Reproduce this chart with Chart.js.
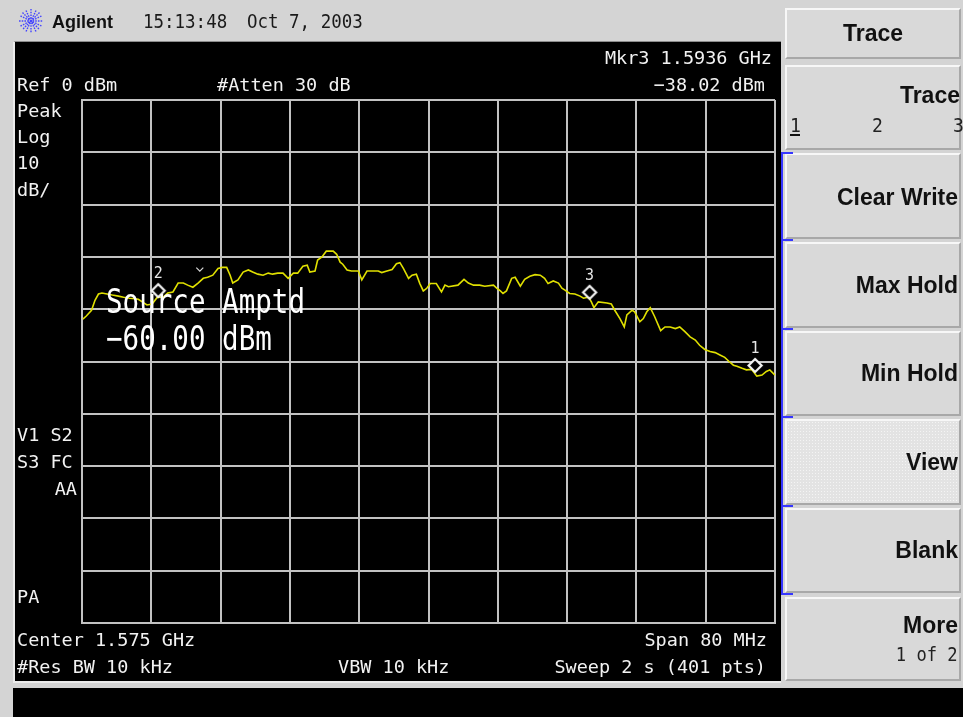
<!DOCTYPE html>
<html>
<head>
<meta charset="utf-8">
<script src="https://cdn.jsdelivr.net/npm/chart.js@4"></script>
<style>
  html, body { margin: 0; padding: 0; }
  body { width: 963px; height: 717px; position: relative; overflow: hidden; background: #d4d4d4; }
  .blk { position: absolute; background: #000; box-sizing: border-box; }
  .key { position: absolute; left: 785px; width: 176px; box-sizing: border-box; background: #d9d9d9;
         border-top: 2px solid #f7f7f7; border-left: 2px solid #f7f7f7;
         border-bottom: 2px solid #a8a8a8; border-right: 2px solid #a8a8a8; }
  .key.sel { background-color: #e3e3e3;
             background-image: radial-gradient(#f4f4f4 0.7px, transparent 0.9px);
             background-size: 3px 3px; }
  .brk { position: absolute; background: #3636ff; z-index: 4; }
  #chart { position: absolute; left: 0; top: 0; z-index: 2; }
  .t { position: absolute; white-space: pre; z-index: 3; }
</style>
</head>
<body>
<!-- instrument display area -->
<div class="blk" style="left:13px;top:41px;width:768px;height:642px;border-left:2px solid #ececec;border-bottom:2px solid #ececec;border-top:1px solid #8c8c8c;"></div>
<div class="blk" style="left:13px;top:688px;width:950px;height:29px;"></div>

<!-- logo -->
<svg style="position:absolute;left:18px;top:8px;z-index:3" width="26" height="26" viewBox="0 0 26 26">
  <g stroke="#4646ff" stroke-width="1.4" stroke-dasharray="1.6 1.1" stroke-linecap="butt">
    <line x1="13" y1="1" x2="13" y2="25"/>
    <line x1="1" y1="13" x2="25" y2="13"/>
    <line x1="4.5" y1="4.5" x2="21.5" y2="21.5"/>
    <line x1="21.5" y1="4.5" x2="4.5" y2="21.5"/>
    <line x1="8" y1="2.5" x2="18" y2="23.5"/>
    <line x1="18" y1="2.5" x2="8" y2="23.5"/>
    <line x1="2.5" y1="8" x2="23.5" y2="18"/>
    <line x1="2.5" y1="18" x2="23.5" y2="8"/>
  </g>
</svg>

<!-- soft keys -->
<div class="key" style="top:8px;height:51px;"></div>
<div class="key" style="top:65px;height:85px;"></div>
<div class="key" style="top:153px;height:86px;"></div>
<div class="key" style="top:242px;height:86px;"></div>
<div class="key" style="top:331px;height:85px;"></div>
<div class="key sel" style="top:419px;height:86px;"></div>
<div class="key" style="top:508px;height:85px;"></div>
<div class="key" style="top:597px;height:84px;"></div>

<div class="brk" style="left:781px;top:152px;width:2px;height:443px;"></div>
<div class="brk" style="left:781px;top:152px;width:12px;height:2px;"></div>
<div class="brk" style="left:781px;top:239px;width:12px;height:2px;"></div>
<div class="brk" style="left:781px;top:328px;width:12px;height:2px;"></div>
<div class="brk" style="left:781px;top:416px;width:12px;height:2px;"></div>
<div class="brk" style="left:781px;top:505px;width:12px;height:2px;"></div>
<div class="brk" style="left:781px;top:593px;width:12px;height:2px;"></div>
<div style="position:absolute;left:790px;top:134px;width:10px;height:1.5px;background:#111;z-index:3"></div>

<canvas id="chart" width="963" height="717"></canvas>

<script>
// Sweep settings
const centerMHz = 1575;
const spanMHz = 80;
const refLevelDbm = 0;
const dbPerDiv = 10;
const divisions = 10;

// Trace 1: frequency (MHz) and level (dBm)
const traceFreqMHz = [
  1535.1,1535.5,1536.1,1536.5,1536.9,1537.3,1537.9,1538.5,1539.2,1539.8,
  1540.5,1541.1,1541.5,1542.5,1543.1,1543.7,1544.4,1544.9,1545.5,1546.1,
  1546.7,1547.2,1547.8,1548.4,1549.0,1549.5,1550.1,1550.7,1551.2,1551.7,
  1552.1,1552.4,1553.0,1553.6,1554.2,1554.7,1555.3,1555.9,1556.5,1557.0,
  1557.6,1558.2,1558.8,1559.4,1559.9,1560.5,1561.0,1561.3,1561.9,1562.2,
  1562.7,1563.2,1564.0,1564.4,1564.8,1565.1,1565.6,1566.1,1566.9,1567.3,
  1567.9,1569.2,1569.6,1570.2,1570.8,1571.3,1571.7,1572.1,1572.7,1573.1,
  1573.6,1574.0,1574.4,1574.8,1575.2,1575.9,1576.5,1576.9,1577.3,1578.4,
  1579.1,1579.6,1580.2,1580.9,1581.5,1582.5,1582.9,1583.3,1583.6,1584.0,
  1584.6,1585.0,1585.6,1586.1,1586.7,1587.3,1587.9,1588.4,1588.8,1589.4,
  1590.0,1590.4,1590.8,1591.3,1591.9,1592.5,1592.9,1593.4,1593.6,1593.8,
  1594.1,1594.6,1595.6,1596.1,1596.5,1597.1,1597.6,1597.9,1598.5,1598.8,
  1599.4,1599.8,1600.2,1600.6,1601.1,1601.8,1602.3,1602.9,1603.5,1604.0,
  1604.6,1605.2,1605.8,1606.3,1606.9,1607.5,1608.1,1608.7,1609.2,1609.7,
  1610.2,1610.6,1611.2,1611.7,1612.3,1612.9,1613.5,1614.0,1614.4,1615.0
];
const traceDbm = [
  -41.9,-41.3,-40.2,-38.3,-37.1,-36.9,-37.1,-37.3,-37.5,-37.7,
  -37.9,-38.0,-38.1,-39.2,-39.0,-37.7,-37.7,-36.9,-36.7,-35.0,
  -35.0,-35.4,-35.8,-35.0,-34.1,-33.9,-33.5,-32.2,-32.0,-32.0,
  -33.5,-35.0,-34.4,-32.9,-32.5,-32.9,-33.3,-33.5,-33.1,-33.3,
  -33.1,-33.1,-34.1,-33.1,-33.1,-31.8,-31.6,-32.9,-32.7,-30.6,
  -30.0,-28.9,-28.9,-29.5,-31.0,-31.4,-32.5,-32.7,-32.7,-34.4,
  -32.7,-32.7,-33.0,-32.7,-32.4,-31.3,-31.1,-32.2,-34.1,-33.5,
  -33.3,-35.1,-36.5,-36.0,-35.1,-35.1,-36.7,-35.4,-35.7,-35.4,
  -34.3,-35.0,-35.4,-35.4,-35.6,-35.4,-36.0,-36.5,-37.0,-36.5,
  -34.1,-33.9,-35.6,-34.3,-33.7,-33.4,-33.5,-34.1,-35.1,-34.6,
  -35.0,-36.0,-36.4,-37.0,-37.1,-37.5,-37.9,-37.7,-38.0,-38.6,
  -39.7,-38.6,-38.8,-39.0,-40.2,-41.8,-43.4,-41.1,-40.2,-40.5,
  -42.4,-41.8,-40.5,-39.7,-41.4,-44.1,-43.4,-43.4,-43.7,-43.4,
  -44.3,-45.3,-45.9,-46.9,-47.7,-48.1,-48.3,-48.8,-49.2,-50.0,
  -50.7,-50.9,-51.3,-51.6,-51.5,-52.8,-52.6,-51.9,-51.6,-52.6
];

// Markers
const markerNames = ['1', '2', '3'];
const markerFreqMHz = [1612.7, 1543.8, 1593.6];
const markerDbm = [-52.0, -37.7, -38.02];
const activeMarker = 2;

// Peak excursion flag
const flagFreqMHz = [1548.6];
const flagDbm = [-35.0];

// ---------- text helper ----------
const MET = { 'DejaVu Sans Mono': [0.928, 0.236], 'Liberation Sans': [0.905, 0.212] };
function put(str, x, base, o) {
  o = o || {};
  const fam = o.family || 'DejaVu Sans Mono';
  const fs = o.size || 18.5;
  const m = MET[fam];
  const top = base - ((fs - (m[0] + m[1]) * fs) / 2 + m[0] * fs);
  const d = document.createElement('div');
  d.className = 't';
  d.textContent = str;
  const sx = o.sx || 1;
  let css = `font:${o.weight || 'normal'} ${fs}px "${fam}";line-height:${fs}px;color:${o.color || '#f2f2f2'};top:${top}px;`;
  if (o.align === 'right') css += `right:${963 - x}px;transform-origin:right center;transform:scaleX(${sx});`;
  else if (o.align === 'center') css += `left:${x}px;transform:translateX(-50%) scaleX(${sx});`;
  else css += `left:${x}px;transform-origin:left center;transform:scaleX(${sx});`;
  if (o.z) css += `z-index:${o.z};`;
  d.style.cssText = css;
  document.body.appendChild(d);
}

// header
put('Agilent', 52, 28, { family: 'Liberation Sans', size: 18, weight: 'bold', color: '#111' });
put('15:13:48', 143, 28, { size: 19, sx: 0.92, color: '#1a1a1a' });
put('Oct 7, 2003', 247, 28, { size: 19, sx: 0.92, color: '#1a1a1a' });

// display annotations
put(`Ref ${refLevelDbm} dBm`, 17, 92);
put('#Atten 30 dB', 217, 92);
put(`Mkr${markerNames[activeMarker]} ${(markerFreqMHz[activeMarker] / 1000).toFixed(4)} GHz`, 772, 65, { align: 'right' });
put(`${markerDbm[activeMarker].toFixed(2).replace('-', '\u2212')} dBm`, 765, 92, { align: 'right' });
put('Peak', 17, 118);
put('Log', 17, 144);
put(String(dbPerDiv), 17, 170);
put('dB/', 17, 197);
put('V1 S2', 17, 442);
put('S3 FC', 17, 469);
put('AA', 77, 496, { align: 'right' });
put('PA', 17, 604);
put(`Center ${(centerMHz / 1000).toFixed(3)} GHz`, 17, 647);
put('#Res BW 10 kHz', 17, 674);
put('VBW 10 kHz', 338, 674);
put(`Span ${spanMHz} MHz`, 767, 647, { align: 'right' });
put('Sweep 2 s (401 pts)', 766, 674, { align: 'right' });

// active function readout
put('Source Amptd', 106, 313, { size: 34, sx: 0.81, color: '#ffffff', z: 5 });
put('\u221260.00 dBm', 106, 350, { size: 34, sx: 0.81, color: '#ffffff', z: 5 });

// soft key labels
const kb = { family: 'Liberation Sans', size: 23, weight: 'bold', color: '#111', align: 'right' };
put('Trace', 873, 41, Object.assign({}, kb, { align: 'center' }));
put('Trace', 960, 103, kb);
put('1', 790, 132, { size: 19, color: '#222', sx: 0.95 });
put('2', 872, 132, { size: 19, color: '#222', sx: 0.95 });
put('3', 953, 132, { size: 19, color: '#222', sx: 0.95 });
put('Clear Write', 958, 205, kb);
put('Max Hold', 958, 293, kb);
put('Min Hold', 958, 381, kb);
put('View', 958, 470, kb);
put('Blank', 958, 558, kb);
put('More', 958, 633, kb);
put('1 of 2', 958, 661, { size: 19, sx: 0.9, color: '#222', align: 'right' });

// ---------- marker glyph: diamond whose lower tip sits on the trace ----------
const diamond = document.createElement('canvas');
diamond.width = 18; diamond.height = 34;
(function () {
  const g = diamond.getContext('2d');
  g.beginPath();
  g.moveTo(9, 4); g.lineTo(15.5, 10.5); g.lineTo(9, 17); g.lineTo(2.5, 10.5); g.closePath();
  g.fillStyle = '#000'; g.fill();
  g.lineWidth = 2.2; g.strokeStyle = '#f6f6f6'; g.stroke();
})();

const markerText = {
  id: 'markerText',
  afterDatasetsDraw(chart) {
    const ctx = chart.ctx;
    const meta = chart.getDatasetMeta(1);
    ctx.save();
    ctx.font = '15px "DejaVu Sans Mono"';
    ctx.fillStyle = '#e6e6e6';
    ctx.textAlign = 'center';
    ctx.textBaseline = 'middle';
    meta.data.forEach((pt, i) => ctx.fillText(markerNames[i], pt.x, pt.y - 23));
    const xs = chart.scales.x, ys = chart.scales.y;
    ctx.strokeStyle = '#d8d8d8';
    ctx.lineWidth = 1.2;
    flagFreqMHz.forEach((f, i) => {
      const px = xs.getPixelForValue(f), py = ys.getPixelForValue(flagDbm[i]);
      ctx.beginPath();
      ctx.moveTo(px - 3.5, py - 15.5); ctx.lineTo(px, py - 12); ctx.lineTo(px + 3.5, py - 15.5);
      ctx.stroke();
    });
    ctx.restore();
  }
};

const gridColor = '#c2c2c2';
new Chart(document.getElementById('chart'), {
  type: 'line',
  data: {
    datasets: [
      {
        label: 'Trace 1',
        data: traceFreqMHz.map((f, i) => ({ x: f, y: traceDbm[i] })),
        borderColor: '#e0e000',
        borderWidth: 1.6,
        pointRadius: 0,
        tension: 0,
        order: 2
      },
      {
        type: 'scatter',
        label: 'Markers',
        data: markerFreqMHz.map((f, i) => ({ x: f, y: markerDbm[i] })),
        pointStyle: diamond,
        pointRadius: 6,
        order: 1
      }
    ]
  },
  options: {
    responsive: false,
    animation: false,
    devicePixelRatio: 1,
    layout: { padding: { left: 82, top: 100, right: 188, bottom: 94 } },
    plugins: { legend: { display: false }, tooltip: { enabled: false } },
    scales: {
      x: {
        type: 'linear',
        min: centerMHz - spanMHz / 2,
        max: centerMHz + spanMHz / 2,
        ticks: { display: false, stepSize: spanMHz / divisions },
        grid: { color: gridColor, lineWidth: 2, drawTicks: false },
        border: { display: true, color: gridColor, width: 2 }
      },
      y: {
        type: 'linear',
        min: refLevelDbm - dbPerDiv * divisions,
        max: refLevelDbm,
        ticks: { display: false, stepSize: dbPerDiv },
        grid: { color: gridColor, lineWidth: 2, drawTicks: false },
        border: { display: true, color: gridColor, width: 2 }
      }
    }
  },
  plugins: [markerText]
});
</script>
</body>
</html>
